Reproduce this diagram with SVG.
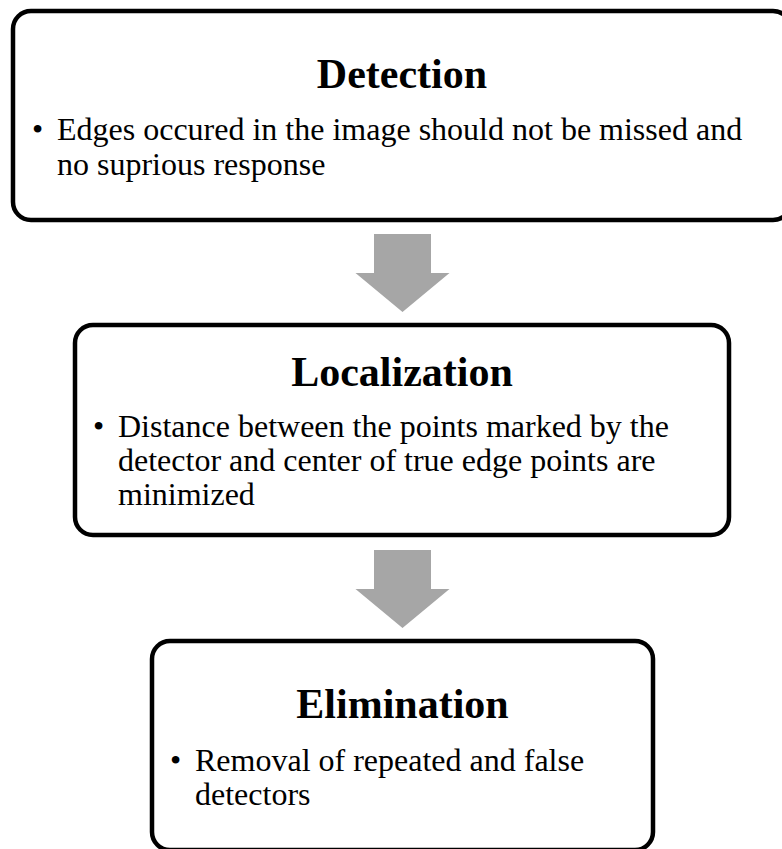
<svg xmlns="http://www.w3.org/2000/svg" width="782" height="849" viewBox="0 0 782 849">
  <style>
    .box { fill: #ffffff; stroke: #000000; stroke-width: 4.5; }
    .title { font-family: "Liberation Serif", "Times New Roman", serif; font-size: 42px; font-weight: bold; fill: #000000; text-anchor: middle; }
    .body { font-family: "Liberation Serif", "Times New Roman", serif; font-size: 32px; fill: #000000; }
    .arrow { fill: #a6a6a6; stroke: none; }
  </style>
  <defs>
    <!-- block arrow pointing down, origin at top of shaft centre -->
    <path id="down-arrow" d="M -28.5 0 H 28.5 V 39 H 47 L 0 78 L -47 39 H -28.5 Z"/>
  </defs>
  <rect width="782" height="849" fill="#ffffff"/>

  <g id="connectors">
    <use href="#down-arrow" class="arrow" x="402.5" y="234"/>
    <use href="#down-arrow" class="arrow" x="402.5" y="550"/>
  </g>

  <g id="detection">
    <rect class="box" x="13" y="11" width="778" height="209" rx="18" ry="18"/>
    <text class="title" x="402" y="88">Detection</text>
    <text class="body" x="32" y="140">•</text>
    <text class="body" x="57" y="140">Edges occured in the image should not be missed and</text>
    <text class="body" x="57" y="175">no suprious response</text>
  </g>

  <g id="localization">
    <rect class="box" x="75" y="325" width="654" height="210" rx="18" ry="18"/>
    <text class="title" x="402" y="386">Localization</text>
    <text class="body" x="93" y="437">•</text>
    <text class="body" x="118" y="437">Distance between the points marked by the</text>
    <text class="body" x="118" y="471">detector and center of true edge points are</text>
    <text class="body" x="118" y="505">minimized</text>
  </g>

  <g id="elimination">
    <rect class="box" x="152" y="641" width="501" height="209" rx="18" ry="18"/>
    <text class="title" x="402.5" y="718">Elimination</text>
    <text class="body" x="170" y="771">•</text>
    <text class="body" x="195" y="771">Removal of repeated and false</text>
    <text class="body" x="195" y="805">detectors</text>
  </g>
</svg>
